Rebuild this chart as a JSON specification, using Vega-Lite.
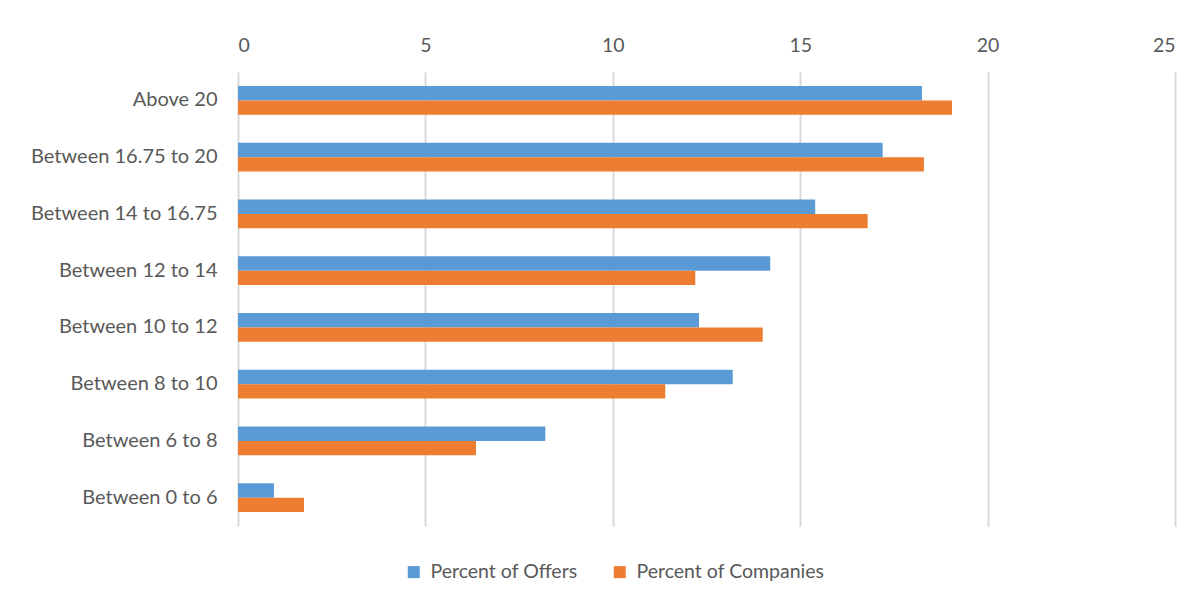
{
  "$schema": "https://vega.github.io/schema/vega-lite/v6.json",
  "autosize": "none",
  "width": 937,
  "height": 454,
  "padding": {"left": 238, "top": 72, "right": 27, "bottom": 80},
  "background": "white",
  "data": {
    "values": [
      {"band": "Above 20", "series": "Percent of Offers", "value": 18.25},
      {"band": "Above 20", "series": "Percent of Companies", "value": 19.05},
      {"band": "Between 16.75 to 20", "series": "Percent of Offers", "value": 17.2},
      {"band": "Between 16.75 to 20", "series": "Percent of Companies", "value": 18.3},
      {"band": "Between 14 to 16.75", "series": "Percent of Offers", "value": 15.4},
      {"band": "Between 14 to 16.75", "series": "Percent of Companies", "value": 16.8},
      {"band": "Between 12 to 14", "series": "Percent of Offers", "value": 14.2},
      {"band": "Between 12 to 14", "series": "Percent of Companies", "value": 12.2},
      {"band": "Between 10 to 12", "series": "Percent of Offers", "value": 12.3},
      {"band": "Between 10 to 12", "series": "Percent of Companies", "value": 14.0},
      {"band": "Between 8 to 10", "series": "Percent of Offers", "value": 13.2},
      {"band": "Between 8 to 10", "series": "Percent of Companies", "value": 11.4},
      {"band": "Between 6 to 8", "series": "Percent of Offers", "value": 8.2},
      {"band": "Between 6 to 8", "series": "Percent of Companies", "value": 6.35},
      {"band": "Between 0 to 6", "series": "Percent of Offers", "value": 0.96},
      {"band": "Between 0 to 6", "series": "Percent of Companies", "value": 1.76}
    ]
  },
  "mark": {"type": "bar"},
  "encoding": {
    "y": {
      "field": "band",
      "type": "nominal",
      "sort": null,
      "scale": {"paddingInner": 0.49, "paddingOuter": 0.245},
      "axis": {
        "title": null,
        "ticks": false,
        "domain": false,
        "grid": false,
        "labelPadding": 21,
        "labelLimit": 0,
        "labelFont": "Lato",
        "labelFontSize": 20,
        "labelColor": "#595959"
      }
    },
    "yOffset": {
      "field": "series",
      "type": "nominal",
      "sort": ["Percent of Offers", "Percent of Companies"],
      "scale": {"paddingInner": 0, "paddingOuter": 0}
    },
    "x": {
      "field": "value",
      "type": "quantitative",
      "scale": {"domain": [0, 25], "nice": false},
      "axis": {
        "orient": "top",
        "title": null,
        "values": [0, 5, 10, 15, 20, 25],
        "ticks": false,
        "tickSize": 0,
        "domain": false,
        "grid": true,
        "gridColor": "#d9d9d9",
        "gridWidth": 2,
        "labelPadding": 17,
        "labelFont": "Lato",
        "labelFontSize": 19.5,
        "labelColor": "#595959"
      }
    },
    "color": {
      "field": "series",
      "type": "nominal",
      "scale": {
        "domain": ["Percent of Offers", "Percent of Companies"],
        "range": ["#5B9BD5", "#ED7D31"]
      },
      "legend": {
        "title": null,
        "orient": "none",
        "direction": "horizontal",
        "legendX": 166,
        "legendY": 490,
        "symbolType": "square",
        "symbolSize": 144,
        "symbolStrokeWidth": 0,
        "labelFont": "Lato",
        "labelFontSize": 19.5,
        "labelLimit": 0,
        "labelColor": "#595959",
        "labelOffset": 7,
        "columnPadding": 32
      }
    }
  },
  "config": {"view": {"stroke": null}}
}
